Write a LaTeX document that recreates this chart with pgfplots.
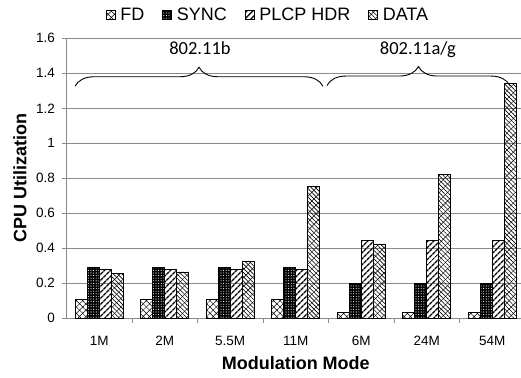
\documentclass[border=0pt]{standalone}
\usepackage{fontspec}
\setmainfont{Liberation Sans}
\newfontfamily\calibri{Carlito}
\usepackage{pgfplots}
\pgfplotsset{compat=1.18}
\usetikzlibrary{patterns.meta, decorations.pathreplacing}
\definecolor{gridgray}{HTML}{8A8A8A}
\pgfplotsset{
  sqleg/.style={legend image code/.code={\draw[##1, line width=0.5pt] (0pt,-4.5pt) rectangle (9pt,4.5pt);}},
}
\begin{document}
\begin{tikzpicture}[x=1pt,y=1pt]
\useasboundingbox (0,0) rectangle (521,377);
\begin{axis}[
  at={(66.5pt,58.7pt)}, anchor=south west,
  scale only axis, width=454.5pt, height=280pt,
  xmin=-0.5, xmax=6.44, ymin=0, ymax=1.6,
  ybar=0pt, bar width=12pt,
  axis x line*=bottom, axis y line*=left,
  axis line style={gridgray, line width=0.8pt, -},
  ymajorgrids, major grid style={gridgray, line width=0.8pt},
  ytick={0,0.2,0.4,0.6,0.8,1,1.2,1.4,1.6},
  yticklabels={0,0.2,0.4,0.6,0.8,1,1.2,1.4,1.6},
  xtick={0,1,2,3,4,5,6},
  xticklabels={1M,2M,5.5M,11M,6M,24M,54M},
  minor xtick={0.5,1.5,2.5,3.5,4.5,5.5},
  tick align=outside, major tick length=5pt, minor tick length=5pt,
  major x tick style={draw=none},
  minor x tick style={draw=gridgray, line width=0.8pt},
  ytick style={draw=gridgray, line width=0.8pt},
  tick label style={font=\fontsize{13.5}{15}\selectfont},
  /pgf/number format/assume math mode=true,
  xticklabel style={yshift=-9pt},
  yticklabel style={xshift=-3pt},
  every axis x label/.style={at={(axis description cs:0.5044,-0.1596)}, anchor=center, font=\bfseries\fontsize{18}{20}\selectfont},
  every axis y label/.style={at={(axis description cs:-0.1023,0.5)}, anchor=center, rotate=90, font=\bfseries\fontsize{18}{20}\selectfont},
  xlabel={Modulation Mode},
  ylabel={CPU Utilization},
  legend columns=4,
  legend style={draw=none, fill=none, at={(axis description cs:0.4433,1.083)}, anchor=center,
    font=\fontsize{18}{19}\selectfont,
    /tikz/every odd column/.append style={column sep=3pt},
    /tikz/every even column/.append style={column sep=16pt}},
]
\addplot[sqleg, draw=black, line width=0.6pt, pattern={Hatch[angle=45,distance=4.5pt,line width=0.5pt]}]
  coordinates {(0,0.11) (1,0.11) (2,0.11) (3,0.11) (4,0.035) (5,0.035) (6,0.035)};
\addplot[sqleg, draw=black, line width=0.6pt, preaction={fill=black}, pattern={Dots[distance=2.6pt,radius=0.55pt]}, pattern color=white]
  coordinates {(0,0.29) (1,0.29) (2,0.29) (3,0.29) (4,0.2) (5,0.2) (6,0.2)};
\addplot[sqleg, draw=black, line width=0.6pt, pattern={Lines[angle=45,distance=4pt,line width=1.5pt]}]
  coordinates {(0,0.28) (1,0.28) (2,0.28) (3,0.28) (4,0.445) (5,0.445) (6,0.445)};
\addplot[sqleg, draw=black, line width=0.6pt, pattern={Lines[angle=-45,distance=3pt,line width=0.6pt]}, postaction={pattern={Lines[angle=45,distance=6pt,line width=0.4pt]}}]
  coordinates {(0,0.255) (1,0.265) (2,0.325) (3,0.755) (4,0.425) (5,0.82) (6,1.34)};
\legend{FD,SYNC,PLCP HDR,DATA}
\draw[decorate, decoration={brace, amplitude=19pt}, line width=0.9pt] (axis cs:-0.37,1.326) -- (axis cs:3.416,1.326);
\draw[decorate, decoration={brace, amplitude=19pt}, line width=0.9pt] (axis cs:3.477,1.33) -- (axis cs:6.27,1.33);
\node[anchor=base, font=\calibri\fontsize{18.5}{20}\selectfont] at (axis cs:1.538,1.505) {802.11b};
\node[anchor=base, font=\calibri\fontsize{18.5}{20}\selectfont] at (axis cs:4.866,1.505) {802.11a/g};
\end{axis}
\end{tikzpicture}
\end{document}
